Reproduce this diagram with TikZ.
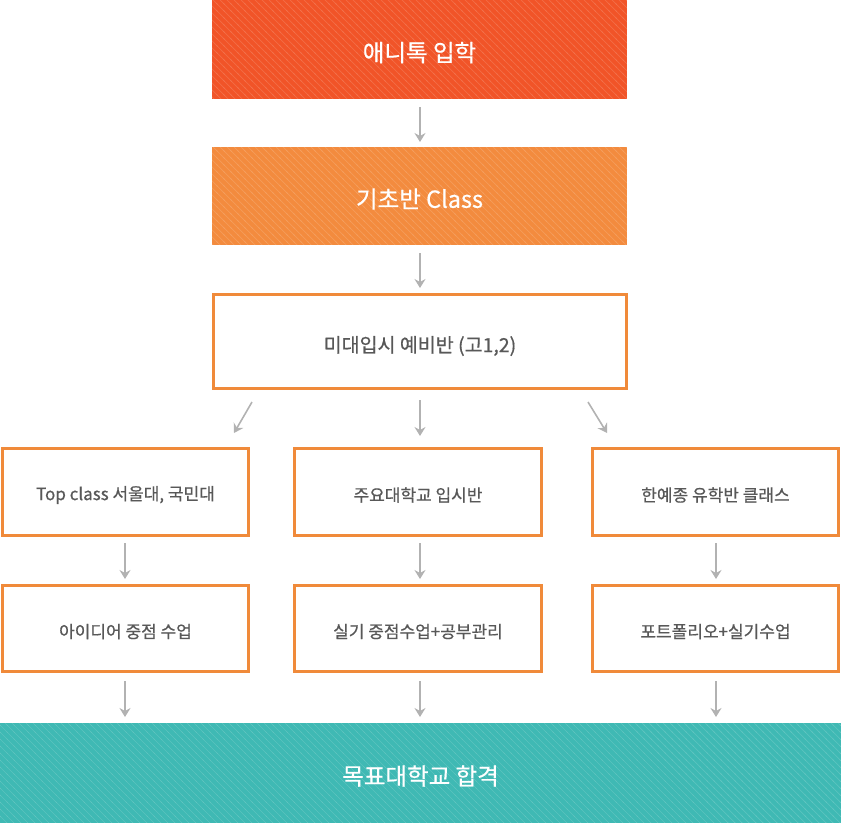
\documentclass[tikz,border=0pt]{standalone}
\usepackage{fontspec}
\setmainfont{Noto Sans CJK KR}[FakeBold=0.6]
\usetikzlibrary{arrows.meta,patterns.meta}
\definecolor{topred}{RGB}{241,84,40}
\definecolor{midorange}{RGB}{243,139,62}
\definecolor{bordor}{RGB}{240,138,58}
\definecolor{tealc}{RGB}{63,185,180}
\definecolor{arrgray}{RGB}{178,178,178}
\definecolor{txtgray}{RGB}{88,88,88}
\pgfdeclarepattern{
  name=hatchlines,
  parameters={},
  bottom left={\pgfpoint{-0.5pt}{-0.5pt}},
  top right={\pgfpoint{7.5pt}{7.5pt}},
  tile size={\pgfpoint{7pt}{7pt}},
  tile transformation={},
  code={
    \pgfsetlinewidth{0.7pt}
    \pgfpathmoveto{\pgfpoint{-0.5pt}{7.5pt}}
    \pgfpathlineto{\pgfpoint{7.5pt}{-0.5pt}}
    \pgfusepath{stroke}
  }
}
\tikzset{
  solidbox/.style={rectangle, inner sep=0pt,
    postaction={pattern={hatchlines}, pattern color=white, opacity=0.14}},
  whitetext/.style={text=white, font=\fontsize{23.5}{26}\selectfont, inner sep=0pt, yshift=-3pt},
  linebox/.style={rectangle, draw=bordor, line width=3pt, inner sep=0pt, fill=white},
  graytext/.style={text=txtgray, font=\fontsize{17}{20}\selectfont, inner sep=0pt, yshift=-3pt},
  flowarrow/.style={draw=arrgray, line width=1.6pt, -{Stealth[length=9pt,width=11pt,inset=3pt]}},
}
\begin{document}
\begin{tikzpicture}[x=1pt,y=-1pt]
\useasboundingbox (0,0) rectangle (841,823);
% top boxes
\node[solidbox, fill=topred, minimum width=415pt, minimum height=99pt,
  label={[whitetext]center:애니톡 입학}] (enter) at (419.5,49.5) {};
\node[solidbox, fill=midorange, minimum width=415pt, minimum height=98pt,
  label={[whitetext]center:기초반 Class}] (basic) at (419.5,196) {};
\node[linebox, minimum width=413pt, minimum height=94pt,
  label={[graytext, font=\fontsize{19.5}{22}\selectfont, yshift=-1.5pt]center:미대입시 예비반 (고1,2)}] (prep) at (420,341.5) {};
% row 2
\node[linebox, minimum width=246pt, minimum height=87pt,
  label={[graytext]center:Top class 서울대, 국민대}] (top) at (125.5,492) {};
\node[linebox, minimum width=247pt, minimum height=87pt,
  label={[graytext]center:주요대학교 입시반}] (major) at (418,492) {};
\node[linebox, minimum width=246pt, minimum height=87pt,
  label={[graytext]center:한예종 유학반 클래스}] (art) at (715.5,492) {};
% row 3
\node[linebox, minimum width=246pt, minimum height=86pt,
  label={[graytext]center:아이디어 중점 수업}] (idea) at (125.5,628.5) {};
\node[linebox, minimum width=247pt, minimum height=86pt,
  label={[graytext]center:실기 중점수업+공부관리}] (prac) at (418,628.5) {};
\node[linebox, minimum width=246pt, minimum height=86pt,
  label={[graytext]center:포트폴리오+실기수업}] (port) at (715.5,628.5) {};
% bottom
\node[solidbox, fill=tealc, minimum width=841pt, minimum height=100pt,
  label={[whitetext]center:목표대학교 합격}] (goal) at (420.5,773) {};
% arrow coordinates
\coordinate (a1s) at (420,107); \coordinate (a1e) at (420,142);
\coordinate (a2s) at (420,253); \coordinate (a2e) at (420,288);
\coordinate (d1s) at (252,402); \coordinate (d1e) at (234,433);
\coordinate (d2s) at (420,400); \coordinate (d2e) at (420,436);
\coordinate (d3s) at (588,402); \coordinate (d3e) at (607,433);
\coordinate (b1s) at (125,543); \coordinate (b1e) at (125,579);
\coordinate (b2s) at (420,543); \coordinate (b2e) at (420,579);
\coordinate (b3s) at (716,543); \coordinate (b3e) at (716,579);
\coordinate (c1s) at (125,681); \coordinate (c1e) at (125,717);
\coordinate (c2s) at (420,681); \coordinate (c2e) at (420,717);
\coordinate (c3s) at (716,681); \coordinate (c3e) at (716,717);
\foreach \p in {a1,a2,d1,d2,d3,b1,b2,b3,c1,c2,c3}{
  \draw[flowarrow] (\p s) -- (\p e);
}
\end{tikzpicture}
\end{document}
